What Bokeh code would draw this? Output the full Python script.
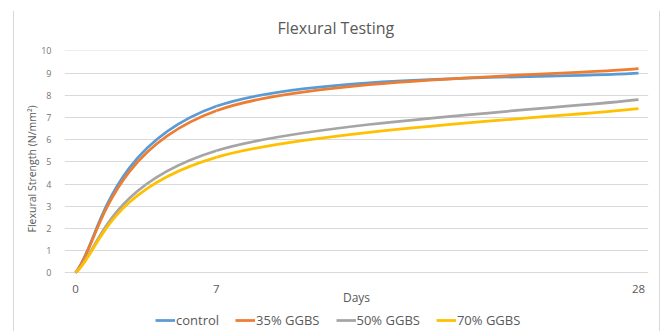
from bokeh.plotting import figure
from bokeh.models import (ColumnDataSource, FixedTicker, Legend, LegendItem, Range1d, Title)
from bokeh.embed import file_html
from bokeh.resources import INLINE

# Age at test (days) and flexural strength (N/mm²) for each mix
days = [0, 7, 28]
control = [0.0, 7.5, 9.0]
ggbs_35 = [0.0, 7.3, 9.2]
ggbs_50 = [0.0, 5.5, 7.8]
ggbs_70 = [0.0, 5.2, 7.4]

series_labels = ["control", "35% GGBS", "50% GGBS", "70% GGBS"]
series_values = [control, ggbs_35, ggbs_50, ggbs_70]
series_colors = ["#5B9BD5", "#ED7D31", "#A5A5A5", "#FFC000"]

x_ticks = [0, 7, 28]
y_ticks = list(range(0, 11))

TEXT = "#595959"
GRID = "#D9D9D9"
FONT = "Open Sans"


def smooth_segments(xs, ys, arm_out=1 / 6, arm_in_inner=0.2, arm_in_end=1 / 6):
    """Cubic Bezier segments passing through every (x, y) point,
    with Catmull-Rom style handles for a smoothed line."""
    n = len(xs)
    seg = dict(x0=[], y0=[], x1=[], y1=[], cx0=[], cy0=[], cx1=[], cy1=[])
    for i in range(n - 1):
        xa, ya = xs[i], ys[i]
        xb, yb = xs[i + 1], ys[i + 1]
        xp, yp = (xs[i - 1], ys[i - 1]) if i > 0 else (xa, ya)
        if i + 2 < n:
            xn, yn, k_in = xs[i + 2], ys[i + 2], arm_in_inner
        else:
            xn, yn, k_in = xb, yb, arm_in_end
        seg["x0"].append(xa)
        seg["y0"].append(ya)
        seg["x1"].append(xb)
        seg["y1"].append(yb)
        seg["cx0"].append(xa + (xb - xp) * arm_out)
        seg["cy0"].append(ya + (yb - yp) * arm_out)
        seg["cx1"].append(xb - (xn - xa) * k_in)
        seg["cy1"].append(yb - (yn - ya) * k_in)
    return seg


# The plot frame runs to the bottom of the canvas; the x axis sits at y = 0
# and the legend goes in the strip underneath it.
p = figure(width=662, height=331,
           x_range=Range1d(-0.547, 28.497), y_range=Range1d(-2.644, 10.014),
           output_backend="svg", toolbar_location=None,
           min_border_left=64, min_border_right=14,
           min_border_top=50, min_border_bottom=0)
p.outline_line_color = None
p.background_fill_color = "white"
p.border_fill_alpha = 0

# thin chart-area edges on the left and right, behind the transparent canvas border
p.styles = {
    "background-color": "white",
    "background-image": "linear-gradient(#D9D9D9, #D9D9D9), linear-gradient(#D9D9D9, #D9D9D9)",
    "background-size": "1px 320px, 1px 320px",
    "background-position": "13px 11px, 659px 11px",
    "background-repeat": "no-repeat",
}

# title
p.title.text = "Flexural Testing"
p.title.text_font = FONT
p.title.text_font_size = "16px"
p.title.text_font_style = "normal"
p.title.text_color = TEXT
p.title.align = "left"
p.title.offset = 213
p.title.standoff = 24

# horizontal gridlines only
p.xgrid.visible = False
p.ygrid.ticker = FixedTicker(ticks=y_ticks)
p.ygrid.grid_line_color = GRID
p.ygrid.grid_line_width = 1

# x axis, anchored at strength 0
p.xaxis.fixed_location = 0
p.xaxis.ticker = FixedTicker(ticks=x_ticks)
p.xaxis.axis_line_color = None
p.xaxis.major_tick_line_color = None
p.xaxis.minor_tick_line_color = None
p.xaxis.major_label_text_font = FONT
p.xaxis.major_label_text_font_size = "11.5px"
p.xaxis.major_label_text_color = TEXT
p.xaxis.major_label_standoff = 6
p.xaxis.axis_label = "Days"
p.xaxis.axis_label_text_font = FONT
p.xaxis.axis_label_text_font_size = "12px"
p.xaxis.axis_label_text_font_style = "normal"
p.xaxis.axis_label_text_color = TEXT
p.xaxis.axis_label_standoff = -7

# y axis
p.yaxis.ticker = FixedTicker(ticks=y_ticks)
p.yaxis.axis_line_color = None
p.yaxis.major_tick_line_color = None
p.yaxis.minor_tick_line_color = None
p.yaxis.major_label_text_font = FONT
p.yaxis.major_label_text_font_size = "9px"
p.yaxis.major_label_text_color = "#767676"
p.yaxis.major_label_standoff = 7

# y-axis title, started at the 0 gridline and read upwards along the 0-10 scale
y_title = Title(text="Flexural Strength (N/mm²)", align="left", offset=99,
                text_font=FONT, text_font_size="10.5px", text_font_style="normal",
                text_color=TEXT, standoff=0)
p.add_layout(y_title, "left")

# smoothed strength-development curves
items = []
for label, values, color in zip(series_labels, series_values, series_colors):
    src = ColumnDataSource(smooth_segments(days, values))
    r = p.bezier(x0="x0", y0="y0", x1="x1", y1="y1",
                 cx0="cx0", cy0="cy0", cx1="cx1", cy1="cy1",
                 source=src, line_color=color, line_width=2.75)
    items.append(LegendItem(label=label, renderers=[r]))

legend = Legend(items=items, orientation="horizontal", location=(91, 2),
                border_line_color=None, background_fill_alpha=0,
                glyph_width=20, glyph_height=16, label_height=16,
                label_standoff=1, spacing=16, padding=0, margin=0,
                label_text_font=FONT, label_text_font_size="13px",
                label_text_color=TEXT)
p.add_layout(legend, "center")

open("out.html", "w").write(file_html(p, INLINE))
